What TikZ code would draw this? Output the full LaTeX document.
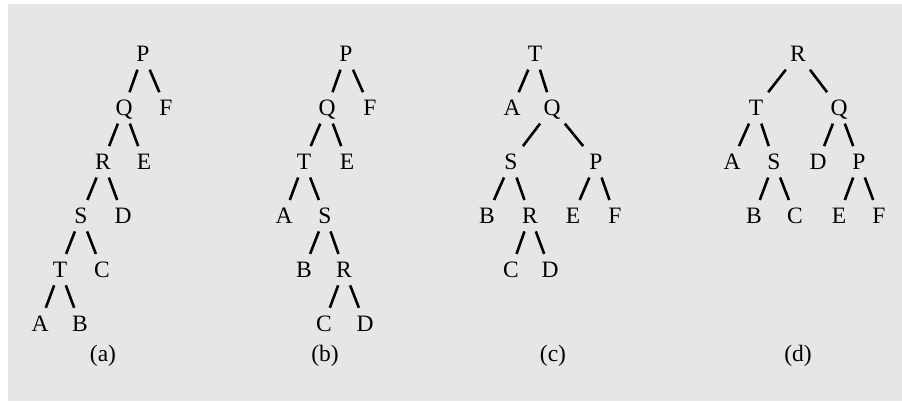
\documentclass[tikz,border=0pt]{standalone}
\usepackage{fontspec}
\setmainfont{Liberation Serif}
\usetikzlibrary{positioning}
\definecolor{BTBack}{HTML}{E6E6E6}
\tikzset{
  btNode/.style={
    rectangle, inner sep=0pt, text height=15.5pt, text depth=0pt,
    minimum width=26pt, minimum height=31pt,
    font=\fontsize{23.5}{28}\selectfont
  },
  btEdge/.style={draw=black, line width=2.6pt},
  btCaption/.style={
    anchor=base, inner sep=0pt, font=\fontsize{23.5}{28}\selectfont
  }
}

\begin{document}
\begin{tikzpicture}[x=1pt, y=-1pt, node distance=22.5pt]
  \useasboundingbox (0,0) rectangle (902,402);
  \fill[BTBack] (8,4) rectangle (902,401);

  % (a)
  \node[btNode] (aP) at (143,54) {P};
  \node[btNode, below=of aP, xshift=-19pt] (aQ) {Q};
  \node[btNode, below=of aP, xshift=23pt] (aF) {F};
  \node[btNode, below=of aQ, xshift=-21pt] (aR) {R};
  \node[btNode, below=of aQ, xshift=20pt] (aE) {E};
  \node[btNode, below=of aR, xshift=-22pt] (aS) {S};
  \node[btNode, below=of aR, xshift=20pt] (aD) {D};
  \node[btNode, below=of aS, xshift=-21pt] (aT) {T};
  \node[btNode, below=of aS, xshift=21pt] (aC) {C};
  \node[btNode, below=of aT, xshift=-20pt] (aA) {A};
  \node[btNode, below=of aT, xshift=20pt] (aB) {B};
  \draw[btEdge] (aP) -- (aQ);
  \draw[btEdge] (aP) -- (aF);
  \draw[btEdge] (aQ) -- (aR);
  \draw[btEdge] (aQ) -- (aE);
  \draw[btEdge] (aR) -- (aS);
  \draw[btEdge] (aR) -- (aD);
  \draw[btEdge] (aS) -- (aT);
  \draw[btEdge] (aS) -- (aC);
  \draw[btEdge] (aT) -- (aA);
  \draw[btEdge] (aT) -- (aB);
  \node[btCaption] (capA) at (103,361) {(a)};

  % (b)
  \node[btNode] (bP) at (346,54) {P};
  \node[btNode, below=of bP, xshift=-19pt] (bQ) {Q};
  \node[btNode, below=of bP, xshift=24pt] (bF) {F};
  \node[btNode, below=of bQ, xshift=-23pt] (bT) {T};
  \node[btNode, below=of bQ, xshift=20pt] (bE) {E};
  \node[btNode, below=of bT, xshift=-20pt] (bA) {A};
  \node[btNode, below=of bT, xshift=21pt] (bS) {S};
  \node[btNode, below=of bS, xshift=-21pt] (bB) {B};
  \node[btNode, below=of bS, xshift=19pt] (bR) {R};
  \node[btNode, below=of bR, xshift=-20pt] (bC) {C};
  \node[btNode, below=of bR, xshift=21pt] (bD) {D};
  \draw[btEdge] (bP) -- (bQ);
  \draw[btEdge] (bP) -- (bF);
  \draw[btEdge] (bQ) -- (bT);
  \draw[btEdge] (bQ) -- (bE);
  \draw[btEdge] (bT) -- (bA);
  \draw[btEdge] (bT) -- (bS);
  \draw[btEdge] (bS) -- (bB);
  \draw[btEdge] (bS) -- (bR);
  \draw[btEdge] (bR) -- (bC);
  \draw[btEdge] (bR) -- (bD);
  \node[btCaption] (capB) at (325,361) {(b)};

  % (c)
  \node[btNode] (cT) at (535,54) {T};
  \node[btNode, below=of cT, xshift=-23pt] (cA) {A};
  \node[btNode, below=of cT, xshift=17pt] (cQ) {Q};
  \node[btNode, below=of cQ, xshift=-41pt] (cS) {S};
  \node[btNode, below=of cQ, xshift=44pt] (cP) {P};
  \node[btNode, below=of cS, xshift=-24pt] (cB) {B};
  \node[btNode, below=of cS, xshift=19pt] (cR) {R};
  \node[btNode, below=of cP, xshift=-23pt] (cE) {E};
  \node[btNode, below=of cP, xshift=19pt] (cF) {F};
  \node[btNode, below=of cR, xshift=-19pt] (cC) {C};
  \node[btNode, below=of cR, xshift=20pt] (cD) {D};
  \draw[btEdge] (cT) -- (cA);
  \draw[btEdge] (cT) -- (cQ);
  \draw[btEdge] (cQ) -- (cS);
  \draw[btEdge] (cQ) -- (cP);
  \draw[btEdge] (cS) -- (cB);
  \draw[btEdge] (cS) -- (cR);
  \draw[btEdge] (cP) -- (cE);
  \draw[btEdge] (cP) -- (cF);
  \draw[btEdge] (cR) -- (cC);
  \draw[btEdge] (cR) -- (cD);
  \node[btCaption] (capC) at (553,361) {(c)};

  % (d)
  \node[btNode] (dR) at (798,54) {R};
  \node[btNode, below=of dR, xshift=-42pt] (dT) {T};
  \node[btNode, below=of dR, xshift=41pt] (dQ) {Q};
  \node[btNode, below=of dT, xshift=-24pt] (dA) {A};
  \node[btNode, below=of dT, xshift=18pt] (dS) {S};
  \node[btNode, below=of dQ, xshift=-21pt] (dD) {D};
  \node[btNode, below=of dQ, xshift=20pt] (dP) {P};
  \node[btNode, below=of dS, xshift=-20pt] (dB) {B};
  \node[btNode, below=of dS, xshift=21pt] (dC) {C};
  \node[btNode, below=of dP, xshift=-20pt] (dE) {E};
  \node[btNode, below=of dP, xshift=20pt] (dF) {F};
  \draw[btEdge] (dR) -- (dT);
  \draw[btEdge] (dR) -- (dQ);
  \draw[btEdge] (dT) -- (dA);
  \draw[btEdge] (dT) -- (dS);
  \draw[btEdge] (dQ) -- (dD);
  \draw[btEdge] (dQ) -- (dP);
  \draw[btEdge] (dS) -- (dB);
  \draw[btEdge] (dS) -- (dC);
  \draw[btEdge] (dP) -- (dE);
  \draw[btEdge] (dP) -- (dF);
  \node[btCaption] (capD) at (798,361) {(d)};
\end{tikzpicture}
\end{document}
